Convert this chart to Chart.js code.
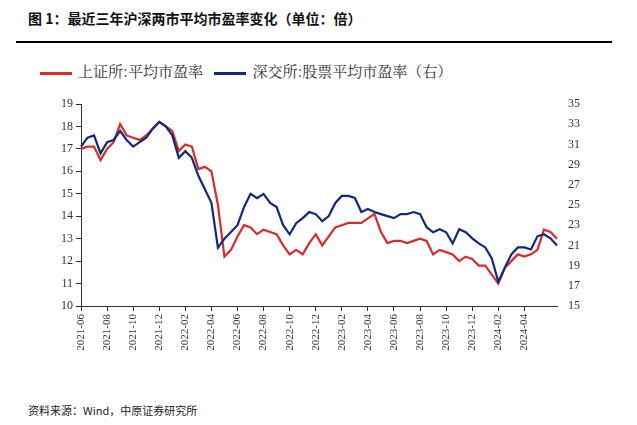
<!DOCTYPE html>
<html><head><meta charset="utf-8">
<script src="https://cdn.jsdelivr.net/npm/chart.js@4"></script>
<style>
body{margin:0;width:637px;height:425px;background:#fff;font-family:"Noto Sans CJK SC",sans-serif;position:relative;overflow:hidden}
#title{position:absolute;left:28px;top:8px;font-size:14px;font-weight:bold;color:#111}
#rule{position:absolute;left:16px;top:41px;width:596px;height:2px;background:#000}
#legend{position:absolute;left:40px;top:60px;font-size:15px;color:#333;font-family:"Noto Serif CJK SC","Noto Sans CJK SC",serif}
#legend span.l{display:inline-block;width:32px;height:3px;vertical-align:middle;margin-right:6px}
#foot{position:absolute;left:28px;top:402px;font-size:11px;color:#222}
#wrap{position:absolute;left:0;top:55px;width:637px;height:340px}
</style></head><body>
<div id="title">图 1：最近三年沪深两市平均市盈率变化（单位：倍）</div>
<div id="rule"></div>
<div id="legend"><span class="l" style="background:#d92b2b"></span>上证所:平均市盈率 &nbsp;&nbsp;<span class="l" style="background:#0e2a7a"></span>深交所:股票平均市盈率（右）</div>
<div id="wrap"><canvas id="c"></canvas></div>
<div id="foot">资料来源：Wind，中原证券研究所</div>
<script>
const months=["2021-06","2021-07","2021-08","2021-09","2021-10","2021-11","2021-12","2022-01","2022-02","2022-03","2022-04","2022-05","2022-06","2022-07","2022-08","2022-09","2022-10","2022-11","2022-12","2023-01","2023-02","2023-03","2023-04","2023-05","2023-06","2023-07","2023-08","2023-09","2023-10","2023-11","2023-12","2024-01","2024-02","2024-03","2024-04","2024-05","2024-06"];
const labels=[];months.forEach(m=>{labels.push(m);labels.push(m+"b");});labels.length=74;
const shPE=[17.0,17.1,17.1,16.5,17.0,17.3,18.1,17.6,17.5,17.4,17.6,17.9,18.2,18.0,17.8,16.9,17.2,17.1,16.1,16.2,16.0,14.5,12.2,12.5,13.1,13.6,13.5,13.2,13.4,13.3,13.2,12.7,12.3,12.5,12.3,12.8,13.2,12.7,13.1,13.5,13.6,13.7,13.7,13.7,13.9,14.1,13.3,12.8,12.9,12.9,12.8,12.9,13.0,12.9,12.3,12.5,12.4,12.3,12.0,12.2,12.1,11.8,11.8,11.4,11.0,11.7,12.0,12.3,12.2,12.3,12.5,13.4,13.3,13.0];
const szPE=[30.78,31.67,31.89,30.11,31.22,31.44,32.33,31.44,30.78,31.22,31.67,32.56,33.22,32.78,31.89,29.67,30.33,29.67,27.89,26.56,25.22,20.78,21.67,22.33,23.0,24.78,26.1,25.67,26.1,25.2,24.8,23.0,22.1,23.2,23.7,24.3,24.1,23.4,23.9,25.2,25.9,25.9,25.7,24.3,24.6,24.3,24.1,23.9,23.7,24.1,24.1,24.3,24.1,22.8,22.3,22.6,22.3,21.2,22.6,22.3,21.7,21.2,20.8,19.7,17.4,18.8,20.1,20.8,20.8,20.6,21.9,22.1,21.7,21.0];
const tickFont={family:"Liberation Serif",size:12};
const show=i=>i%4===0&&i<=68;
new Chart(document.getElementById('c'),{type:'line',
data:{labels,datasets:[
{data:szPE,yAxisID:'y1',borderColor:'#0e2a7a',borderWidth:2.2,pointRadius:0,tension:0},
{data:shPE,yAxisID:'y',borderColor:'#d92b2b',borderWidth:2.2,pointRadius:0,tension:0}]},
options:{animation:false,responsive:true,maintainAspectRatio:false,
layout:{padding:{left:20,right:20,top:49,bottom:29}},
plugins:{legend:{display:false},tooltip:{enabled:false}},
scales:{
x:{offset:false,afterFit:s=>{s.height=60},grid:{drawOnChartArea:false,tickLength:5,color:c=>show(c.index)?'#333':'transparent'},border:{color:'#333'},
 ticks:{autoSkip:false,maxRotation:90,minRotation:90,font:{family:"Liberation Serif",size:11},color:'#333',callback:(v,i)=>show(i)?labels[i]:''}},
y:{min:10,max:19,afterFit:s=>{s.width=61},ticks:{stepSize:1,font:tickFont,color:'#333'},grid:{drawOnChartArea:false,tickLength:5,color:'#333'},border:{color:'#333'}},
y1:{position:'right',min:15,max:35,afterFit:s=>{s.width=60},ticks:{stepSize:2,font:tickFont,color:'#333'},grid:{display:false},border:{display:false}}
}}});
</script></body></html>
